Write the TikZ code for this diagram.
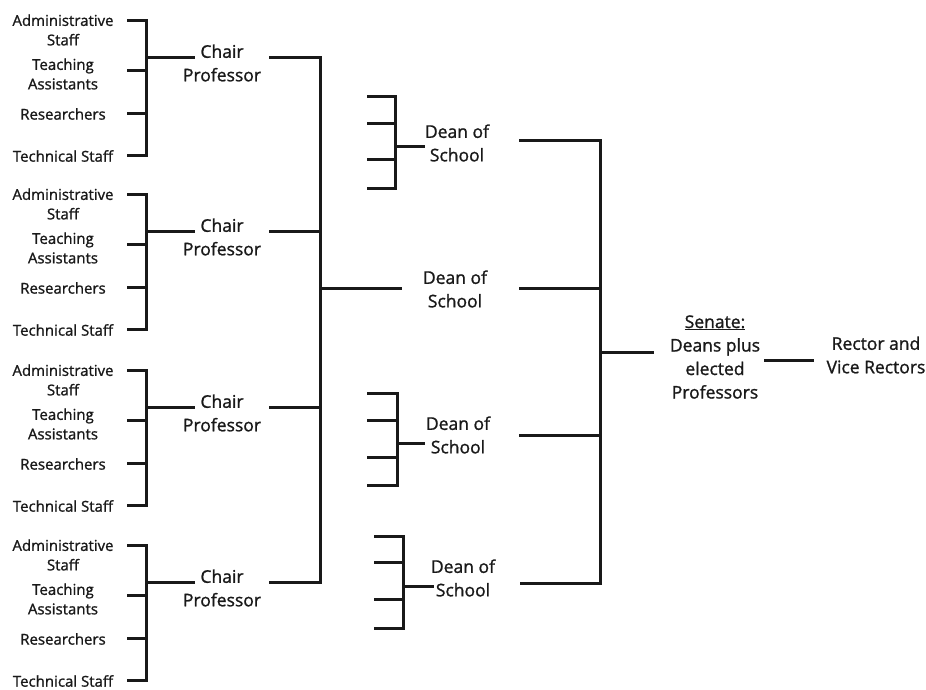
\documentclass[tikz,border=0pt]{standalone}
\usepackage{fontspec}
\setmainfont{Open Sans}[FakeBold=1.2]
\begin{document}
\begin{tikzpicture}[x=1pt,y=-1pt,
  ln/.style={line width=3pt,line join=miter,line cap=rect,black!90},
  staff/.style={align=center,inner sep=0pt,font=\fontsize{15}{19.5}\selectfont,text=black!90},
  big/.style={align=center,inner sep=0pt,font=\fontsize{17.5}{23.5}\selectfont,text=black!90}]
\useasboundingbox (0,0) rectangle (926,689);
% chair groups
\foreach \o/\g in {0/a,174/b,350/c,525/d}{
  \node[staff] (adm\g) at (63,30+\o) {Administrative\\Staff};
  \node[staff] (ta\g) at (63,74+\o) {Teaching\\Assistants};
  \node[staff] (res\g) at (63,114+\o) {Researchers};
  \node[staff] (tec\g) at (63,156+\o) {Technical Staff};
  \node[big] (ch\g) at (222,63+\o) {Chair\\Professor};
  \coordinate (s1\g) at (128,20+\o);
  \coordinate (s2\g) at (128,70+\o);
  \coordinate (s3\g) at (128,113+\o);
  \coordinate (s4\g) at (128,155+\o);
  \coordinate (v1\g) at (146,20+\o);
  \coordinate (v2\g) at (146,70+\o);
  \coordinate (v3\g) at (146,113+\o);
  \coordinate (v4\g) at (146,155+\o);
  \coordinate (j\g) at (146,57+\o);
  \coordinate (ci\g) at (193,57+\o);
  \coordinate (co\g) at (270,57+\o);
  \coordinate (m\g) at (320,57+\o);
  \draw[ln] (s1\g) -- (v1\g) -- (v4\g) -- (s4\g);
  \draw[ln] (s2\g) -- (v2\g);
  \draw[ln] (s3\g) -- (v3\g);
  \draw[ln] (j\g) -- (ci\g);
  \draw[ln] (co\g) -- (m\g);
}
\draw[ln] (ma) -- (md);
% middle dean
\coordinate (mj) at (320,288);
\coordinate (mi) at (400,288);
\node[big] (deanB) at (455,289) {Dean of\\School};
\draw[ln] (mj) -- (mi);
% dean groups with stubs
\foreach \g/\xs/\xv/\xb/\ya/\yb/\yc/\yd/\yj/\tx/\ty in
  {A/368/395/423/96/123/159/188/146/457/143,
   C/368/397/423/393/420/457/485/443/458/435,
   D/375/403/432/536/562/599/628/586/463/578}{
  \node[big] (dean\g) at (\tx,\ty) {Dean of\\School};
  \coordinate (d1\g) at (\xs,\ya);
  \coordinate (d2\g) at (\xs,\yb);
  \coordinate (d3\g) at (\xs,\yc);
  \coordinate (d4\g) at (\xs,\yd);
  \coordinate (e1\g) at (\xv,\ya);
  \coordinate (e2\g) at (\xv,\yb);
  \coordinate (e3\g) at (\xv,\yc);
  \coordinate (e4\g) at (\xv,\yd);
  \coordinate (ej\g) at (\xv,\yj);
  \coordinate (eb\g) at (\xb,\yj);
  \draw[ln] (d1\g) -- (e1\g) -- (e4\g) -- (d4\g);
  \draw[ln] (d2\g) -- (e2\g);
  \draw[ln] (d3\g) -- (e3\g);
  \draw[ln] (ej\g) -- (eb\g);
}
% dean to senate
\coordinate (oA) at (520,140); \coordinate (rA) at (600,140);
\coordinate (oB) at (520,288); \coordinate (rB) at (600,288);
\coordinate (oC) at (520,435); \coordinate (rC) at (600,435);
\coordinate (oD) at (521,583); \coordinate (rD) at (600,583);
\draw[ln] (oA) -- (rA) -- (rD) -- (oD);
\draw[ln] (oB) -- (rB);
\draw[ln] (oC) -- (rC);
\coordinate (sj) at (600,352);
\coordinate (si) at (652,352);
\draw[ln] (sj) -- (si);
\node[big] (senate) at (715,357) {\underline{Senate:}\\Deans plus\\elected\\Professors};
\coordinate (so) at (765,360);
\coordinate (ri) at (812,360);
\draw[ln] (so) -- (ri);
\node[big] (rector) at (876,355) {Rector and\\Vice Rectors};
\end{tikzpicture}
\end{document}
